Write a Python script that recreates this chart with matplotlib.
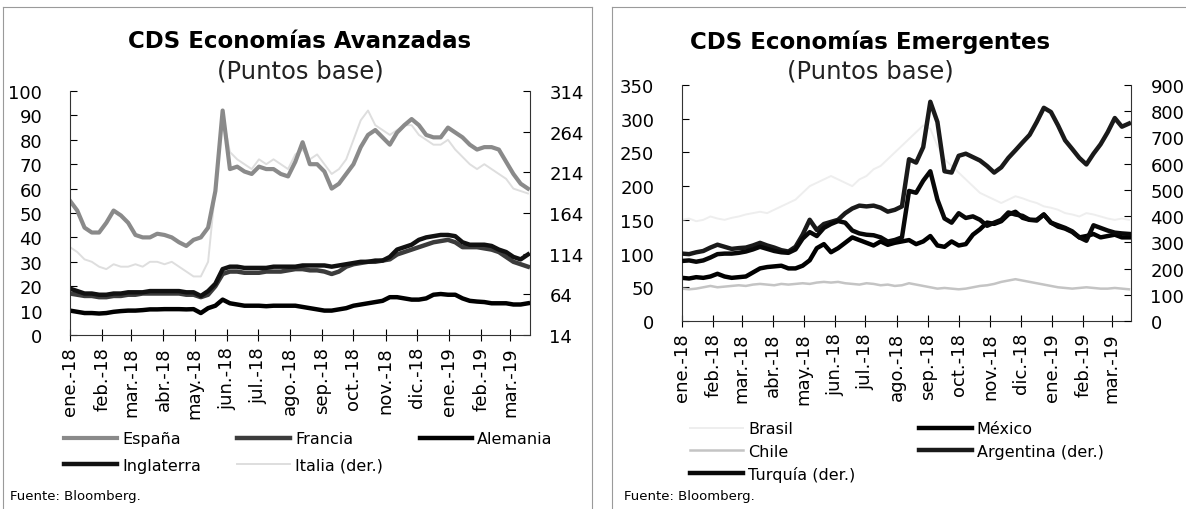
import matplotlib
matplotlib.use("Agg")
import matplotlib.pyplot as plt
import pandas as pd
from matplotlib.lines import Line2D

plt.rcParams['font.family'] = ['DejaVu Sans']

# weekly observations, 1 jan 2018 -> 18 mar 2019
dates = pd.date_range('2018-01-01', periods=64, freq='7D')

month_ticks = pd.date_range('2018-01-01', '2019-03-01', freq='MS')
month_labels = ['ene.-18', 'feb.-18', 'mar.-18', 'abr.-18', 'may.-18', 'jun.-18',
                'jul.-18', 'ago.-18', 'sep.-18', 'oct.-18', 'nov.-18', 'dic.-18',
                'ene.-19', 'feb.-19', 'mar.-19']

# --- economias avanzadas (pb) ---
espana = [55, 51, 44, 42, 42, 46, 51, 49, 46, 41, 40, 40, 41.5, 41, 40, 38,
          36.5, 39, 40, 44, 59, 92, 68, 69, 67, 66, 69, 68, 68, 66, 65, 71,
          79, 70, 70, 67, 60, 62, 66, 70, 77, 82, 84, 81, 78, 83, 86, 88.5,
          86, 82, 81, 81, 85, 83, 81, 78, 76, 77, 77, 76, 71, 66, 62, 60]
francia = [17, 16.5, 16, 16, 15.5, 15.5, 16, 16, 16.5, 16.5, 17, 17, 17, 17, 17, 17,
           16.5, 16.5, 15.5, 16.5, 20, 25, 26, 26, 25.5, 25.5, 25.5, 26, 26, 26, 26.5, 27,
           27, 26.5, 26.5, 26, 25, 26, 28, 29, 29.5, 30, 30, 30.5, 31, 33, 34, 35,
           36, 37, 38, 38.5, 39, 38, 36, 36, 36, 35.5, 35, 34, 32, 30, 29, 28]
alemania = [10, 9.5, 9, 9, 8.8, 9, 9.5, 9.8, 10, 10, 10.2, 10.5, 10.5, 10.6, 10.6, 10.6,
            10.5, 10.6, 9, 11, 12, 14.5, 13, 12.5, 12, 12, 12, 11.8, 12, 12, 12, 12,
            11.5, 11, 10.5, 10, 10, 10.5, 11, 12, 12.5, 13, 13.5, 14, 15.5, 15.5, 15, 14.5,
            14.5, 15, 16.5, 16.8, 16.5, 16.5, 15, 14, 13.7, 13.5, 13, 13, 13, 12.5, 12.5, 13]
inglaterra = [19, 18, 17, 17, 16.5, 16.5, 17, 17, 17.5, 17.5, 17.5, 18, 18, 18, 18, 18,
              17.5, 17.5, 16, 18, 21, 27, 28, 28, 27.5, 27.5, 27.5, 27.5, 28, 28, 28, 28,
              28.5, 28.5, 28.5, 28.5, 28, 28.5, 29, 29.5, 30, 30, 30.5, 30.5, 32, 35, 36, 37,
              39, 40, 40.5, 41, 41, 40.5, 38, 37, 37, 37, 36.5, 35, 34, 32, 31, 33]
italia = [122, 116, 107, 104, 98, 95, 101, 98, 98, 101, 98, 104, 104, 101, 104, 98,
          92, 86, 86, 104, 194, 284, 239, 230, 224, 218, 230, 224, 230, 224, 218, 236,
          242, 230, 236, 224, 212, 218, 230, 254, 278, 290, 272, 266, 260, 266, 272, 272,
          260, 254, 248, 248, 254, 242, 233, 224, 218, 224, 218, 212, 206, 194, 191, 188]

# --- economias emergentes (pb) ---
brasil = [150, 152, 148, 150, 155, 152, 150, 153, 155, 158, 160, 162, 160, 165, 170, 175,
          180, 190, 200, 205, 210, 215, 210, 205, 200, 210, 215, 225, 230, 240, 250, 260,
          270, 280, 290, 285, 260, 240, 230, 220, 210, 200, 190, 185, 180, 175, 180, 185,
          182, 178, 175, 170, 168, 165, 160, 158, 155, 160, 158, 155, 152, 150, 152, 150]
chile = [48, 47, 48, 50, 52, 50, 51, 52, 53, 52, 54, 55, 54, 53, 55, 54,
         55, 56, 55, 57, 58, 57, 58, 56, 55, 54, 56, 55, 53, 54, 52, 53,
         56, 54, 52, 50, 48, 49, 48, 47, 48, 50, 52, 53, 55, 58, 60, 62,
         60, 58, 56, 54, 52, 50, 49, 48, 49, 50, 49, 48, 48, 49, 48, 47]
mexico = [64, 63, 65, 64, 66, 70, 66, 64, 65, 66, 72, 78, 80, 81, 82, 78,
          78, 82, 90, 108, 114, 102, 108, 116, 124, 120, 116, 112, 118, 113, 116, 118,
          120, 114, 118, 126, 112, 110, 118, 112, 114, 128, 136, 146, 144, 148, 158, 162,
          153, 150, 150, 158, 146, 140, 137, 132, 124, 126, 129, 124, 126, 128, 124, 124]
argentina = [257, 255, 262, 267, 280, 291, 283, 275, 278, 280, 288, 298, 288, 280, 270, 265,
             283, 329, 386, 347, 370, 378, 386, 411, 429, 440, 437, 440, 432, 417, 424, 437,
             617, 604, 663, 836, 759, 571, 566, 630, 638, 625, 612, 591, 566, 586, 622, 651,
             681, 710, 759, 813, 797, 746, 689, 656, 622, 597, 638, 674, 720, 774, 741, 753]
turquia = [229, 231, 226, 231, 242, 255, 257, 257, 260, 265, 273, 283, 275, 267, 262, 260,
           273, 314, 339, 324, 355, 370, 381, 375, 345, 334, 329, 327, 319, 303, 309, 319,
           496, 489, 535, 571, 463, 391, 375, 411, 393, 399, 386, 363, 375, 386, 414, 406,
           401, 386, 383, 406, 375, 365, 355, 342, 319, 306, 365, 355, 345, 337, 334, 332]

fig = plt.figure(figsize=(11.86, 5.10), dpi=100)
W, H = 1186.0, 510.0

def fx(px):
    return px / W

def fy(py):
    return 1 - py / H

def style_axes(ax, ax2, pad_r):
    for a in (ax, ax2):
        a.spines['top'].set_visible(False)
        for s in ('left', 'right', 'bottom'):
            a.spines[s].set_linewidth(0.8)
            a.spines[s].set_color('#333333')
    ax.spines['right'].set_visible(False)
    ax2.spines['left'].set_visible(False)
    ax2.spines['bottom'].set_visible(False)
    ax.tick_params(axis='y', direction='in', length=5, pad=20, labelsize=13, width=0.8)
    ax2.tick_params(axis='y', direction='in', length=5, pad=pad_r, labelsize=13, width=0.8)
    ax.tick_params(axis='x', direction='inout', length=8, pad=4, labelsize=13,
                   labelrotation=90, width=0.8)
    ax.set_xticks(month_ticks)
    ax.set_xticklabels(month_labels)
    ax.set_xlim(pd.Timestamp('2018-01-01'), pd.Timestamp('2019-03-20'))

# ---------------- panel izquierdo ----------------
ax = fig.add_axes([fx(70), fy(336), fx(530) - fx(70), fy(92) - fy(336)])
ax2 = ax.twinx()
ax2.plot(dates, italia, color='#dedede', lw=1.4, label='Italia (der.)')
ax.plot(dates, espana, color='#8a8a8a', lw=3, label='España')
ax.plot(dates, francia, color='#3c3c3c', lw=3.2, label='Francia')
ax.plot(dates, inglaterra, color='#111111', lw=3.2, label='Inglaterra')
ax.plot(dates, alemania, color='#000000', lw=3.2, label='Alemania')
ax.set_zorder(ax2.get_zorder() + 1)
ax.patch.set_visible(False)
ax.set_ylim(0, 100)
ax.set_yticks(range(0, 101, 10))
ax2.set_ylim(14, 314)
ax2.set_yticks(range(14, 315, 50))
style_axes(ax, ax2, 14)

fig.text(fx(300), fy(42), 'CDS Economías Avanzadas', ha='center', va='center',
         fontsize=16.5, fontweight='bold')
fig.text(fx(300), fy(72), '(Puntos base)', ha='center', va='center', fontsize=17.5,
         color='#222222')

hl = {h.get_label(): h for h in ax.get_lines() + ax2.get_lines()}
order = ['España', 'Inglaterra', 'Francia', 'Italia (der.)', 'Alemania']
fig.legend([hl[k] for k in order], order, loc='upper left', ncol=3,
           bbox_to_anchor=(fx(50), fy(418)), frameon=False, fontsize=11.5,
           handlelength=3.3, columnspacing=2.3, handletextpad=0.3, labelspacing=0.7)
fig.text(fx(10), fy(497), 'Fuente: Bloomberg.', ha='left', va='center', fontsize=9.5)

# ---------------- panel derecho ----------------
bx = fig.add_axes([fx(682), fy(322), fx(1131) - fx(682), fy(86) - fy(322)])
bx2 = bx.twinx()
bx.plot(dates, brasil, color='#eeeeee', lw=1.4, label='Brasil')
bx.plot(dates, chile, color='#c4c4c4', lw=1.8, label='Chile')
bx2.plot(dates, argentina, color='#1a1a1a', lw=3.2, label='Argentina (der.)')
bx2.plot(dates, turquia, color='#080808', lw=3.2, label='Turquía (der.)')
bx.plot(dates, mexico, color='#000000', lw=3.2, label='México')
bx.set_ylim(0, 350)
bx.set_yticks(range(0, 351, 50))
bx2.set_ylim(0, 900)
bx2.set_yticks(range(0, 901, 100))
style_axes(bx, bx2, 14)

fig.text(fx(870), fy(42), 'CDS Economías Emergentes', ha='center', va='center',
         fontsize=16.5, fontweight='bold')
fig.text(fx(870), fy(72), '(Puntos base)', ha='center', va='center', fontsize=17.5,
         color='#222222')

hr = {h.get_label(): h for h in bx.get_lines() + bx2.get_lines()}
order = ['Brasil', 'Chile', 'Turquía (der.)', 'México', 'Argentina (der.)']
fig.legend([hr[k] for k in order], order, loc='upper left', ncol=2,
           bbox_to_anchor=(fx(676), fy(408)), frameon=False, fontsize=11.5,
           handlelength=3.3, columnspacing=4.0, handletextpad=0.3, labelspacing=0.45)
fig.text(fx(624), fy(497), 'Fuente: Bloomberg.', ha='left', va='center', fontsize=9.5)

# panel frames
frame = dict(color='#9a9a9a', lw=0.8, transform=fig.transFigure)
fig.add_artist(Line2D([fx(3), fx(592)], [fy(8), fy(8)], **frame))
fig.add_artist(Line2D([fx(3), fx(3)], [fy(8), 0], **frame))
fig.add_artist(Line2D([fx(592), fx(592)], [fy(8), 0], **frame))
fig.add_artist(Line2D([fx(612), fx(1186)], [fy(8), fy(8)], **frame))
fig.add_artist(Line2D([fx(612), fx(612)], [fy(8), 0], **frame))

fig.savefig('out.png', dpi=100)
